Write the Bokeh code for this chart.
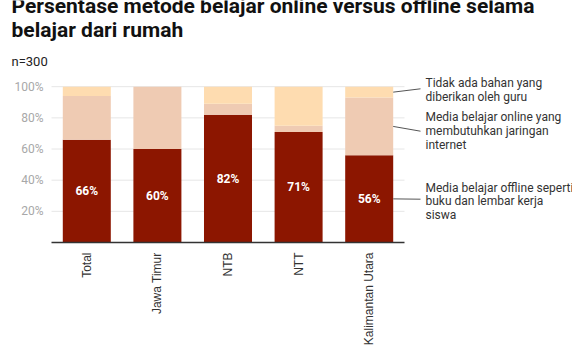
import math
from bokeh.plotting import figure
from bokeh.models import ColumnDataSource, Range1d, Label, Arrow, FixedTicker
from bokeh.core.properties import value
from bokeh.embed import file_html
from bokeh.resources import INLINE

# ---- data ----
categories = ["Total", "Jawa Timur", "NTB", "NTT", "Kalimantan Utara"]
offline = [66, 60, 82, 71, 56]
online = [28, 40, 7, 4, 37]
tidak = [6, 0, 11, 25, 7]
y_ticks = [20, 40, 60, 80, 100]
y_tick_labels = ["20%", "40%", "60%", "80%", "100%"]
title_lines = ["Persentase metode belajar online versus offline selama",
               "belajar dari rumah"]
subtitle = "n=300"
legend_offline = ["Media belajar offline seperti", "buku dan lembar kerja", "siswa"]
legend_online = ["Media belajar online yang", "membutuhkan jaringan", "internet"]
legend_tidak = ["Tidak ada bahan yang", "diberikan oleh guru"]

colors = ["#8c1600", "#efcbb3", "#fedcb0"]

# ---- layout constants (pixels) ----
W, H = 572, 354
bottom = 112
base_px = H - bottom          # y pixel of the 0% baseline
left_px = 51                  # x pixel where the category axis starts
px_per_cat = 70.6
px_per_pct = 1.558


def ydata(py):
    return (base_px - py) / px_per_pct


def xdata(px):
    return (px - left_px) / px_per_cat


xpos = [i + 0.5 for i in range(len(categories))]
src = ColumnDataSource(dict(
    x=xpos, offline=offline, online=online, tidak=tidak,
    lab=[f"{v}%" for v in offline], laby=[v / 2 for v in offline],
))

p = figure(x_range=Range1d(xdata(0), xdata(W)), y_range=Range1d(0, ydata(0)),
           width=W, height=H, output_backend="svg", toolbar_location=None,
           title=None, y_axis_location=None,
           min_border_left=0, min_border_right=0, min_border_top=0,
           min_border_bottom=bottom)
p.outline_line_color = None
p.background_fill_color = "white"
p.xgrid.grid_line_color = None
p.ygrid.grid_line_color = None

n = len(categories)
# horizontal grid lines across the bar area
p.segment(x0=[0] * len(y_ticks), x1=[n] * len(y_ticks), y0=y_ticks, y1=y_ticks,
          line_color="#e6e6e6", line_width=1)
# y tick labels
p.text(x=[xdata(43)] * len(y_ticks), y=y_ticks, text=y_tick_labels,
       text_font=value("Roboto"), text_font_size="12px", text_color="#a8a8a8",
       text_align="right", text_baseline="middle")

p.vbar_stack(["offline", "online", "tidak"], x="x", width=0.68, source=src,
             color=colors, line_color=None)

p.text(x="x", y="laby", text="lab", source=src, text_color="white",
       text_font=value("Roboto"), text_font_style="bold", text_font_size="12px",
       text_align="center", text_baseline="middle")

# category axis
p.xaxis.ticker = FixedTicker(ticks=xpos)
p.xaxis.major_label_overrides = {x: c for x, c in zip(xpos, categories)}
p.xaxis.bounds = (0, n)
p.xaxis.axis_line_color = "#333333"
p.xaxis.axis_line_width = 1.5
p.xaxis.major_tick_line_color = None
p.xaxis.minor_tick_line_color = None
p.xaxis.major_tick_out = 0
p.xaxis.major_label_standoff = 10
p.xaxis.major_label_orientation = math.pi / 2
p.xaxis.major_label_text_font = "Liberation Sans"
p.xaxis.major_label_text_font_size = "12px"
p.xaxis.major_label_text_color = "#333333"

# heading (y = pixel centre of each text line)
for line, mid in zip(title_lines, [5.7, 29.7]):
    p.add_layout(Label(x=xdata(11), y=ydata(mid), text=line, text_font="Roboto",
                       text_font_style="bold", text_font_size="21px",
                       text_color="#111111", text_baseline="middle"))
p.add_layout(Label(x=xdata(11), y=ydata(61.0), text=subtitle, text_font="Roboto",
                   text_font_size="13px", text_color="#222222",
                   text_baseline="middle"))

# legend annotations with leader lines
last = n - 1
bar_right = xpos[last] + 0.34
lead_end = xdata(420)
text_x = xdata(425)
mid_off = offline[last] / 2
mid_on = offline[last] + online[last] / 2
mid_ti = offline[last] + online[last] + tidak[last] / 2
groups = [
    (legend_tidak, mid_ti, 88.3, [82.8, 96.0]),
    (legend_online, mid_on, 130.7, [116.8, 130.5, 144.0]),
    (legend_offline, mid_off, 198.7, [187.6, 200.5, 214.0]),
]
for lines, y0, end_px, mids in groups:
    p.add_layout(Arrow(end=None, x_start=bar_right, y_start=y0, x_end=lead_end,
                       y_end=ydata(end_px), line_color="#555555", line_width=1))
    for line, mpx in zip(lines, mids):
        p.add_layout(Label(x=text_x, y=ydata(mpx), text=line, text_font="Roboto",
                           text_font_size="12px", text_color="#333333",
                           text_baseline="middle"))

open("out.html", "w").write(file_html(p, INLINE))
